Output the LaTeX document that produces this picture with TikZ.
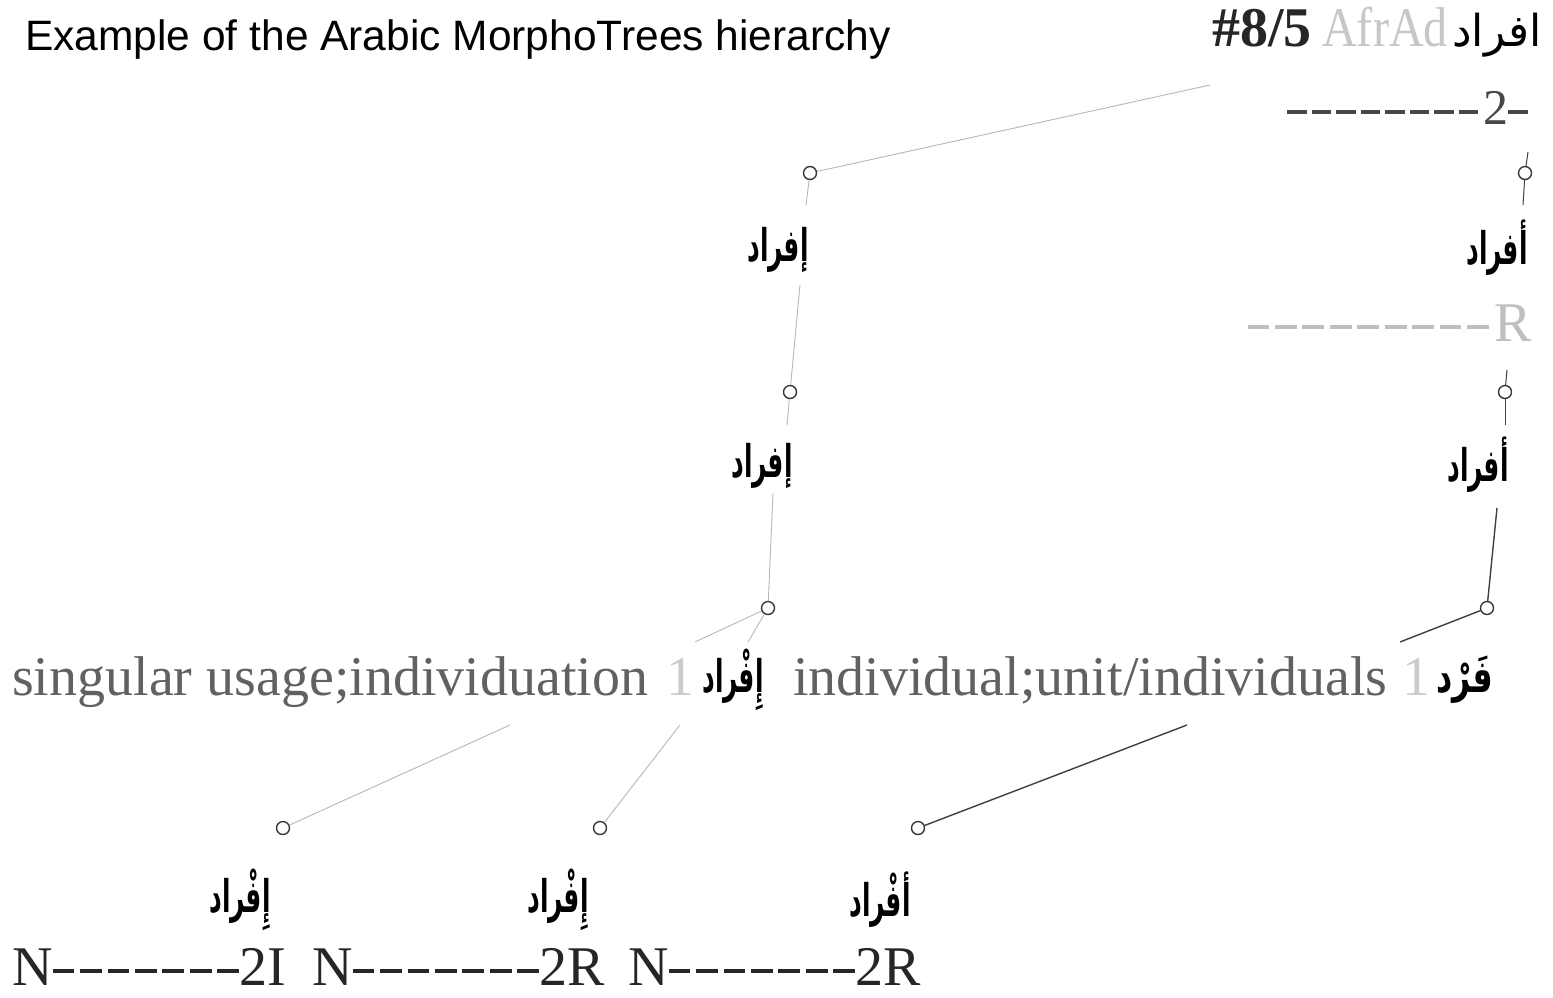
\documentclass[tikz,border=0pt]{standalone}
\usepackage{graphicx}
\usepackage{fontspec}
\setmainfont{Liberation Serif}
\newfontfamily\titlefont{Liberation Sans}
\newfontfamily\arabicfont[Script=Arabic]{DejaVu Sans}
\TeXXeTstate=1
\newcommand\dsh{\rule[0.21em]{0.39em}{0.08em}\hspace{0.1em}}
\newcommand\arsq[1]{\scalebox{0.55}[1]{\beginR #1\endR}}
\tikzset{
  ar/.style={font=\arabicfont\bfseries\fontsize{45}{50}\selectfont, inner sep=0pt, text=black},
  lbl/.style={font=\fontsize{56}{62}\selectfont, inner sep=0pt},
  dot/.style={circle, draw=black!78, line width=1.4pt, minimum size=13pt, inner sep=0pt, fill=white},
  ln/.style={draw=black!28, line width=0.9pt},
  dk/.style={draw=black!75, line width=1.4pt}
}
\begin{document}
\begin{tikzpicture}[x=1pt,y=-1pt]
\useasboundingbox[fill=white] (0,0) rectangle (1553,997);
% title
\node[font=\titlefont\fontsize{42.5}{48}\selectfont, anchor=base west, inner sep=0pt] (title) at (25,50) {Example of the Arabic MorphoTrees hierarchy};
% top right
\node[lbl, font=\bfseries\fontsize{56}{62}\selectfont, anchor=base west, text=black!85] (num) at (1212,46) {\#8/5};
\node[lbl, anchor=base west, text=black!22] (afrad) at (1322,46) {\scalebox{0.86}[1]{AfrAd}};
\node[font=\arabicfont\fontsize{44}{48}\selectfont, inner sep=0pt, anchor=base west] (topar) at (1452,46) {\beginR افراد\endR};
\node[lbl, font=\fontsize{50}{56}\selectfont, anchor=base east, text=black!72] (code2) at (1528,124) {\dsh\dsh\dsh\dsh\dsh\dsh\dsh\dsh 2\rule[0.21em]{0.39em}{0.08em}};
\node[lbl, anchor=base east, text=black!25] (codeR) at (1532,341) {\dsh\dsh\dsh\dsh\dsh\dsh\dsh\dsh\dsh R};
% right column
\node[dot] (c1) at (1525,173) {};
\node[ar] (r1) at (1497,248) {\arsq{أفراد}};
\node[dot] (c2) at (1505,392) {};
\node[ar] (r2) at (1478,465) {\arsq{أفراد}};
\node[dot] (c3) at (1487,608) {};
\coordinate (t1) at (1528,152);
\coordinate (t2) at (1523,205);
\coordinate (t3) at (1507,370);
\coordinate (t4) at (1505,425);
\coordinate (t5) at (1497,508);
\coordinate (t6) at (1400,642);
\draw[dk, line width=1pt] (t1) -- (c1);
\draw[dk, line width=1pt] (c1) -- (t2);
\draw[dk, line width=1pt] (t3) -- (c2);
\draw[dk, line width=1pt] (c2) -- (t4);
\draw[dk] (t5) -- (c3);
\draw[dk] (c3) -- (t6);
% left column
\node[dot] (c4) at (810,173) {};
\node[ar] (l1) at (778,250) {\arsq{إفراد}};
\node[dot] (c5) at (790,392) {};
\node[ar] (l2) at (762,466) {\arsq{إفراد}};
\node[dot] (c6) at (768,608) {};
\coordinate (s1) at (1210,85);
\coordinate (s2) at (806,205);
\coordinate (s3) at (800,285);
\coordinate (s4) at (787,425);
\coordinate (s5) at (773,493);
\coordinate (s6) at (695,642);
\coordinate (s7) at (748,642);
\draw[ln] (s1) -- (c4);
\draw[ln] (c4) -- (s2);
\draw[ln] (s3) -- (c5);
\draw[ln] (c5) -- (s4);
\draw[ln] (s5) -- (c6);
\draw[ln] (c6) -- (s6);
\draw[ln] (c6) -- (s7);
% gloss line
\node[lbl, anchor=base west, text=black!62] (g1) at (12,695) {singular usage;individuation};
\node[lbl, anchor=base west, text=black!20] (g2) at (666,695) {1};
\node[ar] (g3) at (733,680) {\arsq{إِفْراد}};
\node[lbl, anchor=base west, text=black!62] (g4) at (793,695) {individual;unit/individuals};
\node[lbl, anchor=base west, text=black!20] (g5) at (1402,695) {1};
\node[ar] (g6) at (1465,680) {\scalebox{0.7}[1]{\beginR فَرْد\endR}};
% lower level
\node[dot] (c7) at (283,828) {};
\node[dot] (c8) at (600,828) {};
\node[dot] (c9) at (918,828) {};
\coordinate (u1) at (510,725);
\coordinate (u2) at (680,725);
\coordinate (u3) at (1187,725);
\draw[ln] (u1) -- (c7);
\draw[ln] (u2) -- (c8);
\draw[dk] (u3) -- (c9);
\node[ar] (b1) at (240,900) {\arsq{إِفْراد}};
\node[ar] (b2) at (558,900) {\arsq{إِفْراد}};
\node[ar] (b3) at (880,900) {\arsq{أفْراد}};
\node[lbl, anchor=base west, text=black!85] (n1) at (12,985) {N\dsh\dsh\dsh\dsh\dsh\dsh\dsh\hspace{-0.1em}2I};
\node[lbl, anchor=base west, text=black!85] (n2) at (312,985) {N\dsh\dsh\dsh\dsh\dsh\dsh\dsh\hspace{-0.1em}2R};
\node[lbl, anchor=base west, text=black!85] (n3) at (628,985) {N\dsh\dsh\dsh\dsh\dsh\dsh\dsh\hspace{-0.1em}2R};
\end{tikzpicture}
\end{document}
